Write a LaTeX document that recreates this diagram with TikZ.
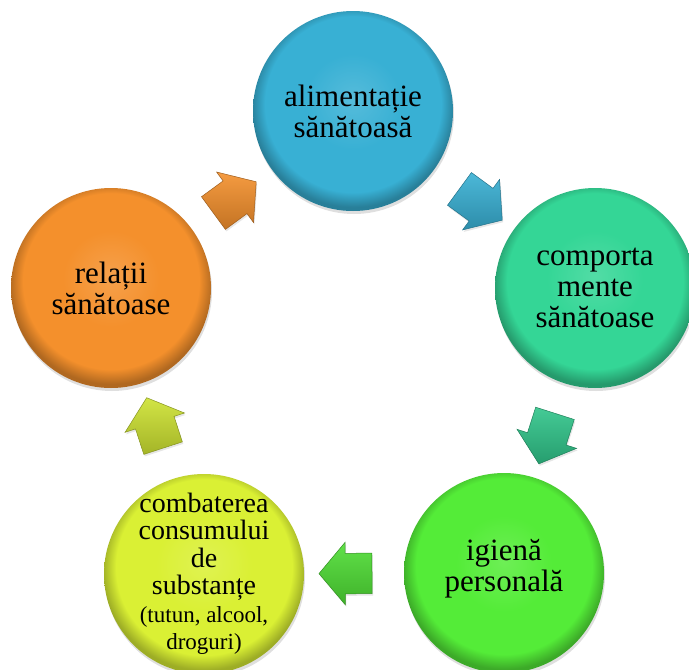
\documentclass[tikz,border=0pt]{standalone}
\usepackage{fontspec}
\setmainfont{Liberation Serif}
\newfontfamily\bubblefont{Liberation Serif}
\usetikzlibrary{shapes.arrows,shadows}
\definecolor{dietcol}{RGB}{56,176,212}
\definecolor{habitcol}{RGB}{52,214,150}
\definecolor{hygcol}{RGB}{84,236,56}
\definecolor{drugcol}{RGB}{218,240,52}
\definecolor{relcol}{RGB}{244,144,44}
\colorlet{bubblecol}{white}
\pgfdeclareradialshading[bubblecol]{bubble}{\pgfpoint{0bp}{3bp}}{%
  color(0bp)=(bubblecol!85!white);
  color(12bp)=(bubblecol);
  color(22bp)=(bubblecol);
  color(25.5bp)=(bubblecol!72!black);
  color(50bp)=(bubblecol!72!black)}
\tikzset{
  bubble/.style={circle, minimum size=200, inner sep=0pt,
    /utils/exec={\colorlet{bubblecol}{#1}}, shading=bubble,
    drop shadow={opacity=0.25, shadow xshift=1pt, shadow yshift=-3pt}},
  bubbletext/.style={align=center, inner sep=0pt, font=\bubblefont\fontsize{31}{31}\selectfont},
  flow/.style={single arrow, draw=#1!65!black, line width=0.5pt,
    top color=#1!90!white, bottom color=#1!80!black,
    minimum height=53, inner xsep=0pt, inner ysep=20pt,
    single arrow head extend=11, single arrow tip angle=100,
    sloped, allow upside down,
    drop shadow={opacity=0.2, shadow xshift=1pt, shadow yshift=-2pt}}
}

\begin{document}
\begin{tikzpicture}[x=1pt,y=-1pt]
  \useasboundingbox (0,0) rectangle (689,670);
  % circles
  \node[bubble=dietcol] (diet) at (353,111) {};
  \node[bubble=habitcol] (habit) at (595,288) {};
  \node[bubble=hygcol] (hyg) at (504,573) {};
  \node[bubble=drugcol] (drug) at (204,574) {};
  \node[bubble=relcol] (rel) at (111,288) {};
  % texts
  \node[bubbletext] (diet-t) at (diet) {alimentație\\sănătoasă};
  \node[bubbletext] (habit-t) at (habit) {comporta\\mente\\sănătoase};
  \node[bubbletext, yshift=4] (hyg-t) at (hyg) {igienă\\personală};
  \node[bubbletext, font=\bubblefont\fontsize{28}{27.5}\selectfont] (drug-t) at (drug)
    {combaterea\\consumului\\de\\substanțe\\{\fontsize{23}{25}\selectfont (tutun, alcool,}\\{\fontsize{23}{23}\selectfont droguri)}};
  \node[bubbletext] (rel-t) at (rel) {relații\\sănătoase};
  % arrows
  \path (diet) -- node[flow=dietcol] (a1) {} (habit);
  \path (habit) -- node[flow=habitcol!92!black] (a2) {} (hyg);
  \path (hyg) -- node[flow=hygcol!94!black] (a3) {} (drug);
  \path (drug) -- node[flow=drugcol!94!black] (a4) {} (rel);
  \path (rel) -- node[flow=relcol, pos=0.45] (a5) {} (diet);
\end{tikzpicture}
\end{document}
